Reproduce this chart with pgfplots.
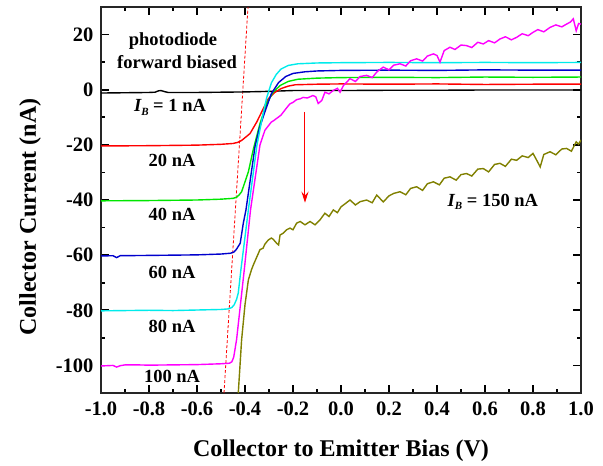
\documentclass[border=0pt]{standalone}
\usepackage{pgfplots}
\pgfplotsset{compat=1.18}
\usepackage{fontspec}
\setmainfont{Liberation Serif}
\usetikzlibrary{arrows.meta}
\definecolor{cgreen}{RGB}{0,230,0}
\definecolor{cblue}{RGB}{0,0,205}
\definecolor{ccyan}{RGB}{0,235,235}
\definecolor{cmag}{RGB}{255,0,255}
\definecolor{colive}{RGB}{128,128,0}
\newcommand{\IB}{{\itshape I}\raisebox{-0.4ex}{\fontsize{11}{11}\selectfont\itshape B}}
\begin{document}
\begin{tikzpicture}
\begin{axis}[
  name=ax,
  scale only axis,
  width=480pt, height=386pt,
  xmin=-1, xmax=1, ymin=-110, ymax=30,
  xtick={-1,-0.8,...,1.01},
  ytick={-100,-80,-60,-40,-20,0,20},
  minor x tick num=1, minor y tick num=1,
  tickwidth=8pt, subtickwidth=4.5pt,
  xtick style={black, line width=1.6pt},
  ytick style={black, line width=1.6pt},
  axis line style={line width=1.4pt, black!85},
  /pgf/number format/assume math mode=true,
  ticklabel style={font=\fontsize{20.5}{22}\selectfont\bfseries},
  xticklabel style={yshift=-5pt, /pgf/number format/fixed, /pgf/number format/fixed zerofill, /pgf/number format/precision=1},
  yticklabel style={xshift=-4pt},
  xlabel={Collector to Emitter Bias (V)},
  ylabel={Collector Current (nA)},
  label style={font=\fontsize{24}{26}\selectfont\bfseries},
  ylabel style={at={(ticklabel cs:0.456)}, yshift=8pt},
  xlabel style={yshift=-18pt},
  every axis plot/.append style={line width=1.4pt, no marks},
]
% dashed guide
\addplot[red, densely dashed, line width=0.8pt] coordinates {(-0.4875,-110) (-0.3875,30)};
% IB = 1 nA
\addplot[black] coordinates {(-1,-1.2) (-0.9,-1.1) (-0.8,-1.0) (-0.775,-0.9) (-0.76,-0.4) (-0.75,-0.3) (-0.735,-0.7) (-0.72,-1.0) (-0.6,-1.0) (-0.5,-0.9) (-0.4,-0.8) (-0.3,-0.6) (-0.2,-0.3) (0,-0.3) (0.2,-0.2) (0.4,-0.2) (0.6,-0.1) (0.8,-0.1) (1.0,-0.1)};
% 20 nA
\addplot[red] coordinates {(-1,-20.4) (-0.8,-20.3) (-0.6,-20.1) (-0.5,-19.8) (-0.45,-19.5) (-0.43,-19.1) (-0.414,-18.4) (-0.40,-17.4) (-0.379,-15.9) (-0.351,-11.7) (-0.324,-6.9) (-0.303,-3.3) (-0.276,-1.0) (-0.25,0.4) (-0.22,1.3) (-0.19,1.8) (-0.1,2.0) (0,2.1) (0.2,2.0) (0.4,2.1) (0.6,1.9) (0.8,2.0) (1.0,2.0)};
% 40 nA
\addplot[cgreen] coordinates {(-1,-40.3) (-0.8,-40.2) (-0.6,-40.0) (-0.5,-39.7) (-0.45,-39.4) (-0.435,-39.0) (-0.425,-38.2) (-0.414,-37.0) (-0.386,-29.8) (-0.365,-21.5) (-0.3375,-12.3) (-0.31,-5.1) (-0.283,-0.9) (-0.254,1.5) (-0.22,3.0) (-0.18,3.8) (-0.1,4.2) (0,4.4) (0.2,4.5) (0.4,4.4) (0.6,4.6) (0.8,4.5) (1.0,4.6)};
% 60 nA
\addplot[cblue] coordinates {(-1,-60.3) (-0.95,-60.2) (-0.935,-60.9) (-0.92,-60.2) (-0.8,-60.1) (-0.6,-59.9) (-0.5,-59.6) (-0.46,-59.3) (-0.445,-58.8) (-0.435,-57.8) (-0.42,-55.7) (-0.407,-48.4) (-0.396,-43.6) (-0.358,-20.5) (-0.34,-14.0) (-0.317,-8.0) (-0.29,-1.4) (-0.26,2.6) (-0.23,4.8) (-0.2,5.9) (-0.15,6.5) (-0.1,6.8) (0,7.0) (0.2,7.1) (0.4,7.0) (0.6,7.2) (0.8,7.1) (1.0,7.1)};
% 80 nA
\addplot[ccyan] coordinates {(-1,-80.2) (-0.9,-80.1) (-0.8,-80.0) (-0.7,-80.1) (-0.6,-79.9) (-0.5,-79.7) (-0.47,-79.5) (-0.455,-79.0) (-0.445,-78.0) (-0.435,-76.0) (-0.428,-73.7) (-0.417,-65.3) (-0.386,-43.6) (-0.35,-20.0) (-0.33,-11.0) (-0.31,-3.0) (-0.29,2.5) (-0.27,5.5) (-0.25,7.5) (-0.22,8.8) (-0.18,9.4) (-0.1,9.7) (0,9.8) (0.2,9.9) (0.4,9.8) (0.6,9.9) (0.8,9.8) (1.0,9.9)};
% 100 nA
\addplot[cmag] coordinates {(-1,-100.2) (-0.95,-100.0) (-0.935,-100.6) (-0.92,-100.1) (-0.9,-99.8) (-0.85,-99.8) (-0.8,-99.9) (-0.7,-99.8) (-0.6,-99.7) (-0.5,-99.4) (-0.465,-99.2) (-0.455,-98.7) (-0.447,-97.0) (-0.435,-90.6) (-0.403,-65.3) (-0.377,-43.6) (-0.3375,-20.0) (-0.317,-14.7) (-0.30,-12.8) (-0.29,-11.7) (-0.28,-11.2) (-0.27,-10.5) (-0.26,-9.9) (-0.25,-9.2) (-0.24,-8.1) (-0.225,-6.4) (-0.2125,-5.1) (-0.2,-4.6) (-0.185,-3.6) (-0.17,-3.3) (-0.158,-2.8) (-0.14,-3.0) (-0.117,-2.1) (-0.105,-2.6) (-0.095,-5.0) (-0.08,-3.9) (-0.067,-0.9) (-0.05,-1.5) (-0.032,-0.25) (-0.015,0.5) (-0.004,-0.9) (0.01,1.5) (0.0375,4.0) (0.06,3.0) (0.08,4.8) (0.107,5.2) (0.13,4.4) (0.15,6.5) (0.176,8.2) (0.2,7.2) (0.22,8.9) (0.246,9.4) (0.27,8.6) (0.29,10.5) (0.315,11.2) (0.34,10.4) (0.36,12.2) (0.385,13.0) (0.40,12.4) (0.4125,10.0) (0.43,14.2) (0.454,15.4) (0.475,14.6) (0.5,16.2) (0.523,16.0) (0.545,15.3) (0.57,17.2) (0.593,16.6) (0.615,17.8) (0.64,17.0) (0.6625,18.4) (0.685,19.2) (0.71,18.1) (0.732,19.0) (0.755,20.3) (0.78,19.6) (0.80,20.8) (0.82,21.8) (0.845,21.0) (0.871,22.6) (0.895,23.5) (0.92,22.8) (0.94,23.8) (0.955,24.5) (0.968,25.7) (0.98,21.4) (0.99,24.0) (1.0,23.8)};
% 150 nA
\addplot[colive] coordinates {(-0.428,-110) (-0.414,-90.6) (-0.4,-78) (-0.386,-69) (-0.373,-65.3) (-0.365,-63.5) (-0.35,-60.5) (-0.3375,-58) (-0.325,-57.5) (-0.317,-56) (-0.303,-54.5) (-0.29,-53.8) (-0.283,-54.2) (-0.268,-55.7) (-0.26,-56.3) (-0.254,-52.7) (-0.24,-52.0) (-0.227,-50.8) (-0.2125,-50.2) (-0.2,-50.8) (-0.185,-48.4) (-0.17,-47.8) (-0.15,-49.0) (-0.129,-47.8) (-0.108,-49) (-0.0875,-47.2) (-0.067,-44.8) (-0.05,-46) (-0.032,-43.6) (-0.015,-44.6) (0.0,-42.5) (0.0375,-40) (0.06,-41.8) (0.08,-40.6) (0.107,-40) (0.13,-41) (0.149,-38.2) (0.176,-40.7) (0.2,-38.5) (0.22,-37.6) (0.246,-37) (0.27,-38.1) (0.29,-35.8) (0.315,-35.2) (0.34,-36.5) (0.36,-34.1) (0.385,-33.4) (0.41,-34.5) (0.43,-32.1) (0.454,-31.6) (0.48,-32.8) (0.5,-30.8) (0.523,-30.4) (0.545,-31.3) (0.57,-28.8) (0.593,-28.6) (0.615,-29.8) (0.64,-27.1) (0.6625,-26.7) (0.685,-27.8) (0.71,-25.2) (0.732,-25.6) (0.755,-24.0) (0.78,-24.6) (0.80,-23.1) (0.815,-25.5) (0.83,-28) (0.845,-23.5) (0.871,-22.5) (0.895,-23.6) (0.92,-21.5) (0.94,-21.3) (0.96,-22.3) (0.98,-18.9) (0.99,-19.8) (1.0,-18.2)};
% arrow
\addplot[red, line width=1pt, -{Stealth[length=11pt,width=7pt]}] coordinates {(-0.15,-8) (-0.15,-41)};
% labels
\begin{scope}[every node/.style={font=\fontsize{18.5}{21}\selectfont\bfseries, inner sep=0pt}]
\node at (axis cs:-0.70,17.6) {photodiode};
\node at (axis cs:-0.683,9.9) {forward biased};
\node at (axis cs:-0.7125,-6.4) {\IB{} = 1 nA};
\node at (axis cs:-0.704,-25.5) {20 nA};
\node at (axis cs:-0.704,-45.4) {40 nA};
\node at (axis cs:-0.704,-66.4) {60 nA};
\node at (axis cs:-0.704,-85.9) {80 nA};
\node at (axis cs:-0.704,-104) {100 nA};
\node at (axis cs:0.633,-40.7) {\IB{} = 150 nA};
\end{scope}
\end{axis}
\path ([shift={(-101pt,-66pt)}]ax.south west) rectangle ([shift={(22pt,7pt)}]ax.north east);
\end{tikzpicture}
\end{document}
